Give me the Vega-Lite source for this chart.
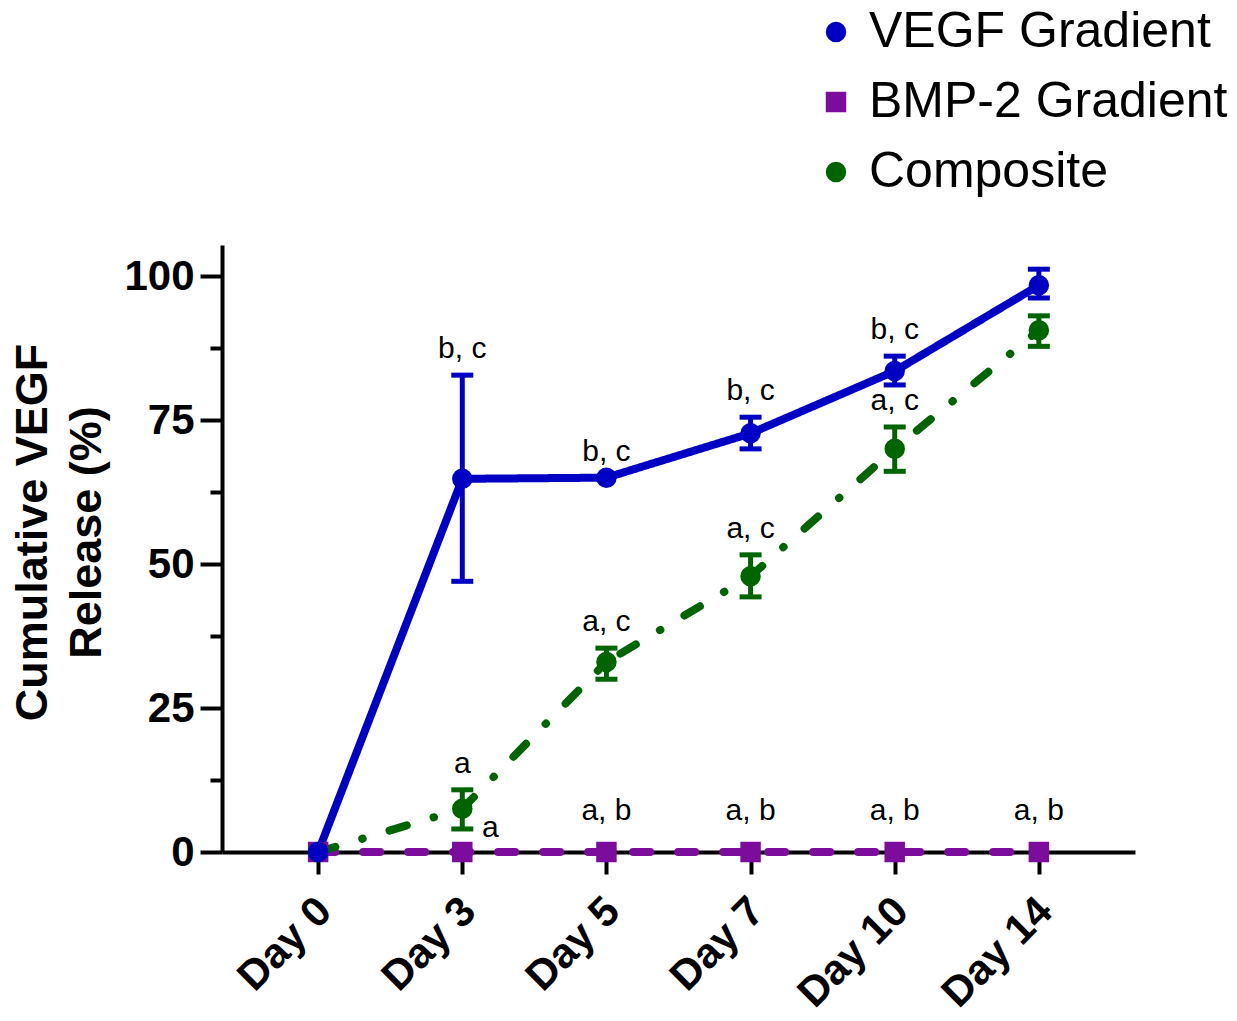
{
  "$schema": "https://vega.github.io/schema/vega-lite/v6.json",
  "width": 913,
  "height": 607,
  "autosize": {"type": "none"},
  "padding": {"left": 222, "top": 245, "right": 102, "bottom": 169},
  "background": "white",
  "config": {"view": {"stroke": null}, "font": "Liberation Sans"},
  "datasets": {
    "release": [
      {"series": "BMP-2 Gradient", "day": "Day 0", "mean": 0, "lo": 0, "hi": 0, "label": ""},
      {"series": "BMP-2 Gradient", "day": "Day 3", "mean": 0, "lo": 0, "hi": 0, "label": "a"},
      {"series": "BMP-2 Gradient", "day": "Day 5", "mean": 0, "lo": 0, "hi": 0, "label": "a, b"},
      {"series": "BMP-2 Gradient", "day": "Day 7", "mean": 0, "lo": 0, "hi": 0, "label": "a, b"},
      {"series": "BMP-2 Gradient", "day": "Day 10", "mean": 0, "lo": 0, "hi": 0, "label": "a, b"},
      {"series": "BMP-2 Gradient", "day": "Day 14", "mean": 0, "lo": 0, "hi": 0, "label": "a, b"},
      {"series": "Composite", "day": "Day 0", "mean": 0, "lo": 0, "hi": 0, "label": ""},
      {"series": "Composite", "day": "Day 3", "mean": 7.5, "lo": 4.0, "hi": 10.8, "label": "a"},
      {"series": "Composite", "day": "Day 5", "mean": 33.0, "lo": 30.0, "hi": 35.4, "label": "a, c"},
      {"series": "Composite", "day": "Day 7", "mean": 47.9, "lo": 44.3, "hi": 51.6, "label": "a, c"},
      {"series": "Composite", "day": "Day 10", "mean": 70.0, "lo": 66.1, "hi": 73.8, "label": "a, c"},
      {"series": "Composite", "day": "Day 14", "mean": 90.6, "lo": 87.8, "hi": 93.1, "label": ""},
      {"series": "VEGF Gradient", "day": "Day 0", "mean": 0, "lo": 0, "hi": 0, "label": ""},
      {"series": "VEGF Gradient", "day": "Day 3", "mean": 64.8, "lo": 47.0, "hi": 82.8, "label": "b, c"},
      {"series": "VEGF Gradient", "day": "Day 5", "mean": 65.0, "lo": 65.0, "hi": 65.0, "label": "b, c"},
      {"series": "VEGF Gradient", "day": "Day 7", "mean": 72.7, "lo": 70.0, "hi": 75.5, "label": "b, c"},
      {"series": "VEGF Gradient", "day": "Day 10", "mean": 83.5, "lo": 81.1, "hi": 86.1, "label": "b, c"},
      {"series": "VEGF Gradient", "day": "Day 14", "mean": 98.4, "lo": 96.2, "hi": 101.2, "label": ""}
    ]
  },
  "data": {"name": "release"},
  "encoding": {
    "x": {
      "field": "day",
      "type": "ordinal",
      "sort": ["Day 0", "Day 3", "Day 5", "Day 7", "Day 10", "Day 14"],
      "scale": {"type": "point", "padding": 0.667},
      "axis": {
        "title": null,
        "domainColor": "black",
        "domainWidth": 4,
        "tickColor": "black",
        "tickWidth": 4,
        "tickSize": 22,
        "labelAngle": -45,
        "labelAlign": "right",
        "labelBaseline": "middle",
        "labelFontSize": 42,
        "labelFontWeight": "bold",
        "labelColor": "black",
        "labelPadding": 30,
        "labelOffset": 6,
        "grid": false
      }
    }
  },
  "layer": [
    {
      "mark": {"type": "line", "strokeWidth": 8, "strokeCap": "round"},
      "encoding": {
        "y": {
          "field": "mean",
          "type": "quantitative",
          "scale": {"domain": [0, 105.4], "nice": false, "zero": true},
          "axis": {
            "title": ["Cumulative VEGF", "Release (%)"],
            "titleFontSize": 45,
            "titleFontWeight": "bold",
            "titleColor": "black",
            "titleLineHeight": 54,
            "titlePadding": 14,
            "titleY": 287,
            "values": [0, 12.5, 25, 37.5, 50, 62.5, 75, 87.5, 100],
            "labelExpr": "datum.value % 25 === 0 ? datum.label : ''",
            "tickSize": {"condition": {"test": "datum.value % 25 === 0", "value": 22}, "value": 12},
            "domainColor": "black",
            "domainWidth": 4,
            "tickColor": "black",
            "tickWidth": 4,
            "labelFontSize": 42,
            "labelFontWeight": "bold",
            "labelColor": "black",
            "labelPadding": 6,
            "grid": false
          }
        },
        "color": {
          "field": "series",
          "type": "nominal",
          "scale": {
            "domain": ["VEGF Gradient", "BMP-2 Gradient", "Composite"],
            "range": ["#0000C4", "#7B0C9C", "#006400"]
          },
          "legend": {
            "title": null,
            "orient": "none",
            "legendX": 589,
            "legendY": -238,
            "labelFontSize": 50,
            "labelColor": "black",
            "labelLimit": 0,
            "labelOffset": 8,
            "symbolSize": 420,
            "symbolOpacity": 1,
            "rowPadding": 20,
            "symbolStrokeWidth": 0
          }
        },
        "strokeDash": {
          "field": "series",
          "type": "nominal",
          "scale": {
            "domain": ["VEGF Gradient", "BMP-2 Gradient", "Composite"],
            "range": [[1, 0], [17, 28], [18, 28, 0.5, 28]]
          },
          "legend": null
        }
      }
    },
    {
      "transform": [{"filter": "datum.hi > datum.lo"}],
      "mark": {"type": "rule", "strokeWidth": 5, "opacity": 1},
      "encoding": {
        "y": {"field": "lo", "type": "quantitative"},
        "y2": {"field": "hi"},
        "color": {"field": "series", "type": "nominal"}
      }
    },
    {
      "transform": [{"filter": "datum.hi > datum.lo"}],
      "mark": {"type": "tick", "thickness": 5, "size": 22, "opacity": 1},
      "encoding": {
        "y": {"field": "lo", "type": "quantitative"},
        "color": {"field": "series", "type": "nominal"}
      }
    },
    {
      "transform": [{"filter": "datum.hi > datum.lo"}],
      "mark": {"type": "tick", "thickness": 5, "size": 22, "opacity": 1},
      "encoding": {
        "y": {"field": "hi", "type": "quantitative"},
        "color": {"field": "series", "type": "nominal"}
      }
    },
    {
      "mark": {"type": "point", "filled": true, "opacity": 1, "size": 420},
      "encoding": {
        "y": {"field": "mean", "type": "quantitative"},
        "color": {"field": "series", "type": "nominal"},
        "shape": {
          "field": "series",
          "type": "nominal",
          "scale": {
            "domain": ["VEGF Gradient", "BMP-2 Gradient", "Composite"],
            "range": ["circle", "square", "circle"]
          },
          "legend": null
        }
      }
    },
    {
      "transform": [{"filter": "datum.label !== '' && datum.series !== 'BMP-2 Gradient'"}],
      "mark": {"type": "text", "fontSize": 30, "baseline": "alphabetic", "align": "center", "dy": -17, "color": "black"},
      "encoding": {
        "y": {"field": "hi", "type": "quantitative"},
        "text": {"field": "label"}
      }
    },
    {
      "transform": [{"filter": "datum.series === 'BMP-2 Gradient' && datum.label === 'a, b'"}],
      "mark": {"type": "text", "fontSize": 30, "baseline": "alphabetic", "align": "center", "dy": -32, "color": "black"},
      "encoding": {
        "y": {"field": "hi", "type": "quantitative"},
        "text": {"field": "label"}
      }
    },
    {
      "transform": [{"filter": "datum.series === 'BMP-2 Gradient' && datum.label === 'a'"}],
      "mark": {"type": "text", "fontSize": 30, "baseline": "alphabetic", "align": "center", "dx": 28, "dy": -15, "color": "black"},
      "encoding": {
        "y": {"field": "hi", "type": "quantitative"},
        "text": {"field": "label"}
      }
    }
  ]
}
